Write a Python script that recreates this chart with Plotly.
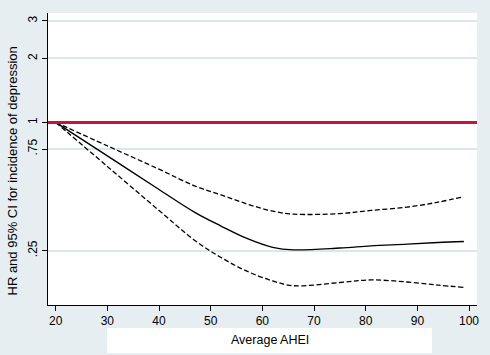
import plotly.graph_objects as go

ahei = [20, 30, 40, 47, 52, 57, 62, 66, 75, 81, 88, 94, 99]
hr = [1.0, 0.696, 0.484, 0.377, 0.326, 0.285, 0.259, 0.252, 0.257, 0.263, 0.268, 0.273, 0.276]
ci_upper = [1.0, 0.776, 0.603, 0.502, 0.457, 0.414, 0.383, 0.371, 0.373, 0.386, 0.400, 0.422, 0.448]
ci_lower = [1.0, 0.621, 0.386, 0.278, 0.232, 0.200, 0.180, 0.171, 0.177, 0.182, 0.178, 0.172, 0.168]

x_ticks = [20, 30, 40, 50, 60, 70, 80, 90, 100]
y_ticks = [0.25, 0.75, 1, 2, 3]
y_ticktext = [".25", ".75", "1", "2", "3"]
ref_value = 1

bg = "#e6eef1"
grid = "#dce6eb"
font = "Liberation Sans, Arial, sans-serif"
dash = "5px,2.5px"

fig = go.Figure()
fig.add_trace(go.Scatter(x=ahei, y=ci_upper, mode="lines",
                         line=dict(color="black", width=1.3, dash=dash, shape="spline", smoothing=1),
                         showlegend=False, hoverinfo="skip"))
fig.add_trace(go.Scatter(x=ahei, y=ci_lower, mode="lines",
                         line=dict(color="black", width=1.3, dash=dash, shape="spline", smoothing=1),
                         showlegend=False, hoverinfo="skip"))
fig.add_trace(go.Scatter(x=ahei, y=hr, mode="lines",
                         line=dict(color="black", width=1.4, shape="spline", smoothing=1),
                         showlegend=False, hoverinfo="skip"))

fig.add_shape(type="line", xref="paper", x0=0, x1=1, yref="y", y0=ref_value, y1=ref_value,
              line=dict(color="#c8143c", width=3), layer="above")

# white box behind x title
fig.add_shape(type="rect", xref="paper", yref="paper",
              x0=(107 - 48) / 429, x1=(432 - 48) / 429, y0=-(353 - 305) / 292, y1=-(328 - 305) / 292,
              fillcolor="white", line=dict(width=0), layer="below")

fig.add_annotation(text="Average AHEI", xref="paper", yref="paper",
                   x=(270 - 48) / 429, y=-(340 - 305) / 292, showarrow=False,
                   font=dict(size=12.5, color="black", family=font), xanchor="center", yanchor="middle")
fig.add_annotation(text="HR and 95% CI for incidence of depression", xref="paper", yref="paper",
                   x=-(48 - 12.5) / 429, y=(305 - 171) / 292, showarrow=False, textangle=-90,
                   font=dict(size=13, color="black", family=font), xanchor="center", yanchor="middle")

fig.update_layout(
    width=490, height=355,
    margin=dict(l=48, r=13, t=13, b=50),
    paper_bgcolor=bg, plot_bgcolor="white",
    font=dict(family=font, size=12, color="black"),
    hovermode=False,
    xaxis=dict(range=[18.51, 101.54], tickvals=x_ticks, showgrid=False, zeroline=False,
               showline=True, linecolor="black", linewidth=1, ticks="outside", ticklen=5,
               tickcolor="black", tickfont=dict(size=12)),
    yaxis=dict(type="log", range=[-0.8577, 0.514], tickvals=y_ticks, ticktext=y_ticktext,
               tickangle=-90, showgrid=True, gridcolor=grid, gridwidth=1.5, zeroline=False,
               showline=True, linecolor="black", linewidth=1, ticks="outside", ticklen=5,
               tickcolor="black", tickfont=dict(size=12)),
)

fig.write_html("out.html", config={"displayModeBar": False},
               post_script="document.body.style.margin='0';document.body.style.background='" + bg + "';")
